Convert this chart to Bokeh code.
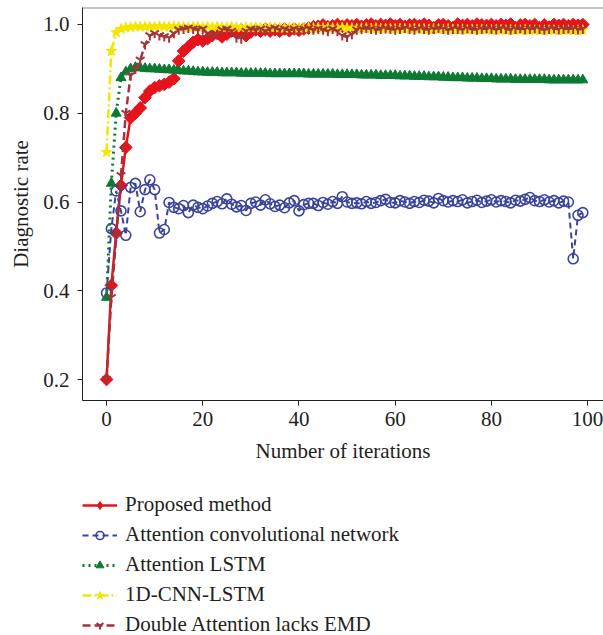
from bokeh.plotting import figure
from bokeh.layouts import column
from bokeh.models import Legend, LegendItem, FixedTicker, Range1d, PrintfTickFormatter, Span
from bokeh.embed import file_html
from bokeh.resources import INLINE

iterations = list(range(100))

proposed = [
    0.200, 0.412, 0.530, 0.637, 0.723, 0.790, 0.800, 0.812, 0.835, 0.850,
    0.858, 0.862, 0.865, 0.870, 0.878, 0.918, 0.940, 0.950, 0.960, 0.966,
    0.963, 0.968, 0.975, 0.980, 0.972, 0.978, 0.985, 0.982, 0.988, 0.975,
    0.983, 0.988, 0.985, 0.990, 0.985, 0.988, 0.985, 0.990, 0.986, 0.990,
    0.987, 0.990, 0.992, 0.995, 0.996, 0.999, 0.995, 0.997, 1.000, 0.996,
    0.999, 0.997, 1.000, 0.996, 0.999, 1.001, 0.997, 1.000, 0.998, 1.001,
    0.997, 1.000, 0.996, 0.999, 1.000, 0.997, 1.001, 0.998, 0.993, 0.999,
    1.000, 0.997, 0.993, 1.001, 0.998, 1.000, 0.997, 1.001, 0.999, 0.998,
    1.000, 0.997, 1.000, 0.998, 1.001, 0.993, 0.999, 1.000, 0.997, 1.000,
    0.993, 0.999, 0.994, 1.000, 0.998, 1.000, 0.997, 1.000, 0.998, 1.000,
]

attention_conv = [
    0.395, 0.540, 0.625, 0.580, 0.525, 0.633, 0.642, 0.578, 0.628, 0.650,
    0.628, 0.530, 0.538, 0.599, 0.588, 0.585, 0.592, 0.576, 0.593, 0.588,
    0.585, 0.591, 0.597, 0.601, 0.596, 0.607, 0.595, 0.589, 0.592, 0.581,
    0.597, 0.600, 0.593, 0.605, 0.596, 0.590, 0.593, 0.587, 0.598, 0.603,
    0.580, 0.594, 0.597, 0.597, 0.592, 0.599, 0.595, 0.601, 0.597, 0.612,
    0.600, 0.597, 0.598, 0.596, 0.601, 0.597, 0.599, 0.603, 0.606, 0.599,
    0.598, 0.603, 0.600, 0.597, 0.601, 0.599, 0.604, 0.602, 0.598, 0.608,
    0.603, 0.600, 0.603, 0.601, 0.605, 0.598, 0.601, 0.604, 0.599, 0.602,
    0.605, 0.600, 0.603, 0.601, 0.598, 0.604, 0.602, 0.606, 0.610, 0.603,
    0.601, 0.605, 0.600, 0.603, 0.598, 0.602, 0.600, 0.472, 0.570, 0.576,
]

attention_lstm = [
    0.385, 0.642, 0.800, 0.880, 0.893, 0.900, 0.903, 0.902, 0.901, 0.900,
    0.900, 0.899, 0.898, 0.898, 0.897, 0.896, 0.895, 0.895, 0.894, 0.893,
    0.893, 0.892, 0.892, 0.892, 0.891, 0.891, 0.891, 0.891, 0.890, 0.890,
    0.890, 0.890, 0.890, 0.890, 0.889, 0.889, 0.889, 0.889, 0.889, 0.889,
    0.889, 0.889, 0.888, 0.888, 0.888, 0.888, 0.888, 0.888, 0.887, 0.887,
    0.887, 0.887, 0.887, 0.886, 0.886, 0.886, 0.886, 0.885, 0.885, 0.885,
    0.885, 0.884, 0.884, 0.884, 0.883, 0.883, 0.883, 0.882, 0.882, 0.882,
    0.881, 0.881, 0.880, 0.880, 0.880, 0.879, 0.879, 0.879, 0.878, 0.878,
    0.878, 0.877, 0.877, 0.877, 0.877, 0.876, 0.876, 0.876, 0.876, 0.876,
    0.876, 0.876, 0.875, 0.875, 0.875, 0.875, 0.875, 0.875, 0.875, 0.875,
]

cnn_lstm = [
    0.712, 0.940, 0.982, 0.990, 0.993, 0.994, 0.995, 0.995, 0.995, 0.995,
    0.995, 0.996, 0.995, 0.995, 0.996, 0.995, 0.995, 0.994, 0.995, 0.995,
    0.994, 0.995, 0.994, 0.995, 0.994, 0.994, 0.995, 0.994, 0.993, 0.994,
    0.993, 0.994, 0.993, 0.993, 0.994, 0.993, 0.993, 0.992, 0.993, 0.993,
    0.992, 0.993, 0.993, 0.992, 0.993, 0.992, 0.993, 0.992, 0.992, 0.993,
    0.992, 0.992, 0.991, 0.992, 0.992, 0.991, 0.992, 0.991, 0.991, 0.991,
    0.990, 0.991, 0.990, 0.990, 0.991, 0.990, 0.990, 0.989, 0.990, 0.990,
    0.989, 0.990, 0.989, 0.989, 0.989, 0.988, 0.989, 0.988, 0.989, 0.988,
    0.988, 0.988, 0.988, 0.987, 0.988, 0.988, 0.987, 0.988, 0.987, 0.987,
    0.987, 0.987, 0.987, 0.987, 0.986, 0.987, 0.987, 0.986, 0.987, 0.987,
]

double_attention = [
    0.200, 0.385, 0.520, 0.660, 0.800, 0.885, 0.900, 0.920, 0.955, 0.975,
    0.980, 0.975, 0.973, 0.970, 0.980, 0.988, 0.990, 0.992, 0.990, 0.988,
    0.990, 0.980, 0.975, 0.978, 0.988, 0.990, 0.985, 0.970, 0.968, 0.985,
    0.990, 0.988, 0.990, 0.985, 0.990, 0.992, 0.988, 0.990, 0.987, 0.990,
    0.988, 0.990, 0.992, 0.988, 0.990, 0.988, 0.985, 0.990, 0.985, 0.975,
    0.972, 0.978, 0.988, 0.990, 0.992, 0.990, 0.988, 0.990, 0.991, 0.990,
    0.988, 0.990, 0.992, 0.990, 0.988, 0.991, 0.990, 0.988, 0.990, 0.992,
    0.990, 0.988, 0.991, 0.990, 0.989, 0.991, 0.990, 0.988, 0.990, 0.991,
    0.990, 0.989, 0.991, 0.990, 0.988, 0.990, 0.991, 0.989, 0.990, 0.991,
    0.990, 0.988, 0.990, 0.991, 0.989, 0.990, 0.991, 0.990, 0.989, 0.990,
]

labels = ["Proposed method", "Attention convolutional network", "Attention LSTM",
          "1D-CNN-LSTM", "Double Attention lacks EMD"]
x_ticks = [0, 20, 40, 60, 80, 100]
y_ticks = [0.2, 0.4, 0.6, 0.8, 1.0]
x_lo, x_hi = -5, 103.3
y_lo, y_hi = 0.1527, 1.0383

FONT = "Liberation Serif"
TXT = "#231f20"
FS = "21px"

RED = "#e5131c"
BLUE = "#3a449c"
GREEN = "#0c7a32"
YELLOW = "#f4e600"
BROWN = "#a5333a"

p = figure(width=603, height=470, output_backend="svg", toolbar_location=None,
           x_range=Range1d(x_lo, x_hi), y_range=Range1d(y_lo, y_hi),
           min_border_left=81, min_border_right=0, min_border_top=7,
           min_border_bottom=70)
p.xgrid.visible = False
p.ygrid.visible = False
p.outline_line_color = None
p.add_layout(Span(location=y_hi, dimension="width", line_color="#8a8a8a", line_width=2))

for ax in (p.xaxis[0], p.yaxis[0]):
    ax.axis_line_color = TXT
    ax.axis_line_width = 1
    ax.major_tick_line_color = TXT
    ax.major_tick_out = 5
    ax.major_tick_in = 0
    ax.minor_tick_line_color = None
    ax.major_label_text_font = FONT
    ax.major_label_text_font_size = FS
    ax.major_label_text_color = TXT
    ax.axis_label_text_font = FONT
    ax.axis_label_text_font_size = FS
    ax.axis_label_text_font_style = "normal"
    ax.axis_label_text_color = TXT

p.xaxis.ticker = FixedTicker(ticks=x_ticks)
p.yaxis.ticker = FixedTicker(ticks=y_ticks)
p.yaxis.formatter = PrintfTickFormatter(format="%.1f")
p.xaxis.axis_label = "Number of iterations"
p.yaxis.axis_label = "Diagnostic rate"
p.xaxis.major_label_standoff = 6
p.xaxis.axis_label_standoff = 10
p.yaxis.major_label_standoff = 8
p.yaxis.axis_label_standoff = 7


def draw(fig, legend_style=False):
    k = 0.85 if legend_style else 1.0
    l1 = fig.line(iterations, proposed, line_color=RED, line_width=2.5)
    if legend_style:
        s1 = fig.scatter(iterations, proposed, marker="diamond", size=13,
                         fill_color=RED, line_color=RED)
    else:
        s1 = fig.scatter(iterations, proposed, marker="square", angle=0.785398, size=9,
                         fill_color=RED, line_color=RED)
    l2 = fig.line(iterations, attention_conv, line_color=BLUE, line_width=2, line_dash="6 4")
    s2 = fig.scatter(iterations, attention_conv, marker="circle", size=10 * k,
                     fill_color=None, line_color=BLUE, line_width=1.6)
    l3 = fig.line(iterations, attention_lstm, line_color=GREEN, line_width=3, line_dash="2 4")
    s3 = fig.scatter(iterations, attention_lstm, marker="triangle", size=10 * k,
                     fill_color=GREEN, line_color=GREEN)
    l4 = fig.line(iterations, cnn_lstm, line_color=YELLOW, line_width=2.5, line_dash="9 3 2 3")
    s4 = fig.scatter(iterations, cnn_lstm, marker="star", size=11 * k,
                     fill_color=YELLOW, line_color=YELLOW)
    l5 = fig.line(iterations, double_attention, line_color=BROWN, line_width=2.5, line_dash="8 4")
    s5 = fig.scatter(iterations, double_attention, marker="y", size=10 * k,
                     line_color=BROWN, line_width=2)
    return [(l1, s1), (l2, s2), (l3, s3), (l4, s4), (l5, s5)]


draw(p)

# legend panel below the chart (series drawn outside its visible range)
q = figure(width=603, height=165, output_backend="svg", toolbar_location=None,
           x_range=Range1d(x_hi + 200, x_hi + 300), y_range=Range1d(y_lo, y_hi),
           x_axis_type=None, y_axis_type=None,
           min_border_left=82, min_border_right=0, min_border_top=22,
           min_border_bottom=0)
q.xgrid.visible = False
q.ygrid.visible = False
q.outline_line_color = None
pairs = draw(q, legend_style=True)

items = [LegendItem(label=lab, renderers=[lr, sr]) for lab, (lr, sr) in zip(labels, pairs)]
legend = Legend(items=items, location="top_left", orientation="vertical",
                label_text_font=FONT, label_text_font_size=FS,
                label_text_color=TXT, glyph_width=35, glyph_height=20,
                label_height=20, label_standoff=8, spacing=5,
                padding=0, margin=0, border_line_color=None,
                background_fill_alpha=0)
q.add_layout(legend, "center")

layout = column(p, q, spacing=0)
open("out.html", "w").write(file_html(layout, INLINE))
